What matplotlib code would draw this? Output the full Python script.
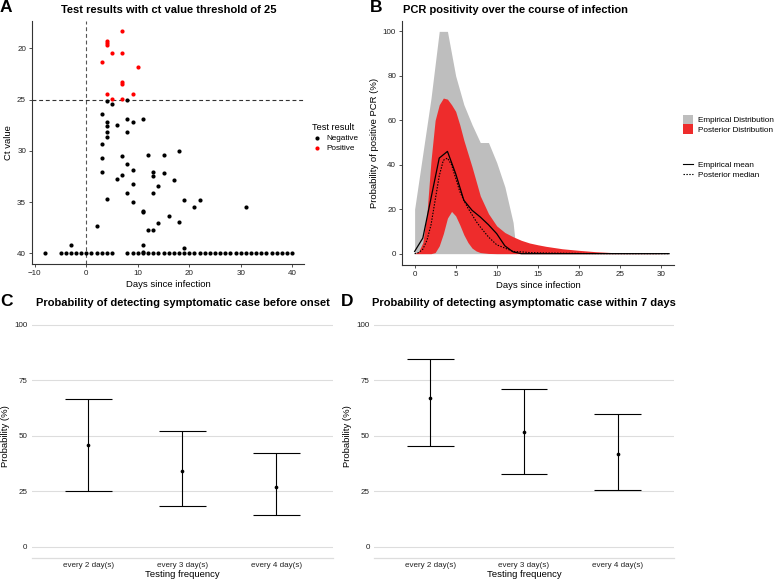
import matplotlib
matplotlib.use("Agg")
import matplotlib.pyplot as plt
from matplotlib.lines import Line2D
from matplotlib.patches import Patch
import numpy as np

plt.rcParams['font.family'] = ['Liberation Sans', 'DejaVu Sans']

# ---------------- Panel A data ----------------
pos_days = [7, 4, 4, 4, 5, 7, 3, 10, 7, 7, 4, 9, 5, 7]
pos_ct = [18.3, 19.25, 19.45, 19.64, 20.5, 20.42, 21.36, 21.78, 23.3, 23.5, 24.48, 24.48, 24.93, 24.93]

neg_days = [4, 5, 8, 3, 8, 11, 9, 6, 4, 4, 4, 8, 4, 3, 3, 7, 12, 15, 18, 8, 9, 3, 7, 13, 13, 15,
            6, 17, 9, 14, 8, 13, 4, 9, 19, 22, 21, 31, 11, 11, 16, 14, 18, 2, 12, 13, -3, 11, 19, 11]
neg_ct = [25.1, 25.42, 25.06, 26.4, 26.9, 26.9, 27.14, 27.46, 27.14, 27.53, 28.2, 28.2, 28.66, 29.35,
          30.68, 30.55, 30.45, 30.4, 30.06, 31.26, 31.88, 32.08, 32.34, 32.1, 32.5, 32.17,
          32.79, 32.89, 33.24, 33.4, 34.1, 34.1, 34.74, 34.97, 34.77, 34.77, 35.48, 35.48, 35.84, 36.0,
          36.33, 37.04, 36.95, 37.3, 37.69, 37.69, 39.22, 39.15, 39.5, 39.9]
floor_days = [-8, -5, -4, -3, -2, -1, 0, 1, 2, 3, 4, 5,
              8, 9, 10, 11, 12, 13, 14, 15, 16, 17, 18, 19, 20, 21, 22, 23, 24, 25, 26, 27, 28,
              29, 30, 31, 32, 33, 34, 35, 36, 37, 38, 39, 40]
floor_ct = [40] * len(floor_days)
ct_threshold = 25
infection_day = 0

# ---------------- Panel B data ----------------
emp_days = [0, 1, 2, 3, 4, 5, 6, 7, 8, 9, 10, 11, 12, 12.4, 31]
emp_upper = [20, 45, 70, 100, 100, 80, 67, 58, 50, 50, 41, 30, 14, 0, 0]
emp_lower = [0, 0, 0, 0, 0, 0, 0, 0, 0, 0, 0, 0, 0, 0, 0]

post_days = [0, 0.5, 1, 1.5, 2, 2.5, 3, 3.5, 4, 4.5, 5, 5.5, 6, 6.5, 7, 7.5, 8, 9, 10, 11, 12,
             13, 14, 15, 16, 18, 20, 22, 24, 26, 31]
post_upper = [0, 1, 5, 18, 42, 60, 67, 70, 69.5, 67, 64, 58, 51, 45, 39, 32.5, 26, 18, 12.5, 9.5,
              7.6, 6, 4.8, 4, 3.3, 2.2, 1.5, 0.9, 0.5, 0.2, 0]
post_lower = [0, 0, 0, 0, 0, 0.5, 3.5, 9, 16, 19, 17, 13, 8.5, 5, 2.5, 1.2, 0.5, 0.1, 0, 0, 0,
              0, 0, 0, 0, 0, 0, 0, 0, 0, 0]
post_median = [0, 0.5, 2, 6, 13, 24, 35, 42, 43, 40, 34, 28, 24, 20.5, 17.5, 14.5, 12, 7.5, 4, 2.5,
               1, 0.8, 0.5, 0.4, 0.3, 0.2, 0.1, 0.05, 0.02, 0, 0]

mean_days = [0, 1, 2, 3, 4, 5, 6, 7, 8, 9, 10, 11, 12, 13, 31]
emp_mean = [1, 7, 25, 43, 46, 36, 24, 19.5, 16.5, 13, 9, 3.5, 0.8, 0, 0]

# ---------------- Panels C / D data ----------------
freq_labels = ['every 2 day(s)', 'every 3 day(s)', 'every 4 day(s)']
sym_mid = [46.0, 34.1, 26.8]
sym_low = [25.4, 18.3, 14.2]
sym_high = [66.6, 52.2, 42.1]
asym_mid = [66.9, 51.6, 41.9]
asym_low = [45.5, 32.9, 25.7]
asym_high = [84.9, 71.1, 59.9]

# ---------------- figure ----------------
W, H = 778, 583
fig = plt.figure(figsize=(W / 100, H / 100), dpi=100)


def rect(l, r, t, b):
    return [l / W, 1 - b / H, (r - l) / W, (b - t) / H]


def fx(px):
    return px / W


def fy(py):
    return 1 - py / H


TICK_FS = 5.8
LAB_FS = 6.8
TITLE_FS = 8.0
LETTER_FS = 12.5
LEG_FS = 5.9
AXCOL = '#333333'


def classic(ax):
    for s in ['top', 'right']:
        ax.spines[s].set_visible(False)
    for s in ['left', 'bottom']:
        ax.spines[s].set_color(AXCOL)
        ax.spines[s].set_linewidth(0.8)
    ax.tick_params(axis='both', length=2.5, width=0.6, color=AXCOL, labelsize=TICK_FS,
                   labelcolor='#222222', pad=2)


# ----- Panel A -----
axA = fig.add_axes(rect(32.3, 304, 20.7, 264))
classic(axA)
axA.axvline(infection_day, color='#555555', lw=0.8, ls=(0, (3.5, 2.5)), zorder=1)
axA.axhline(ct_threshold, color='#333333', lw=0.8, ls=(0, (3.5, 2.5)), zorder=1)
axA.scatter(neg_days + floor_days, neg_ct + floor_ct, s=9, color='black', linewidths=0, zorder=3,
            label='Negative')
axA.scatter(pos_days, pos_ct, s=9, color='red', linewidths=0, zorder=3, label='Positive')
axA.set_xlim(-10.5, 42.3)
axA.set_ylim(41.04, 17.3)
axA.set_xticks([-10, 0, 10, 20, 30, 40])
axA.set_xticklabels(['\u221210', '0', '10', '20', '30', '40'])
axA.set_yticks([20, 25, 30, 35, 40])
axA.set_xlabel('Days since infection', fontsize=LAB_FS, labelpad=2)
axA.set_ylabel('Ct value', fontsize=LAB_FS, labelpad=3)
fig.text(fx(168.5), fy(10), 'Test results with ct value threshold of 25', fontsize=TITLE_FS,
         fontweight='bold', ha='center', va='center')
legA = axA.legend(loc='upper left', bbox_to_anchor=(fx(312), fy(123)), bbox_transform=fig.transFigure,
                  title='Test result', fontsize=LEG_FS, title_fontsize=6.6, frameon=False,
                  handletextpad=0.5, labelspacing=0.3, borderpad=0, borderaxespad=0,
                  markerscale=1.0, handlelength=1.2)
legA._legend_box.align = 'left'

# ----- Panel B -----
axB = fig.add_axes(rect(402.3, 674, 20.7, 265))
classic(axB)
axB.fill_between(emp_days, emp_lower, emp_upper, color='#BEBEBE', lw=0, zorder=1)
axB.fill_between(post_days, post_lower, post_upper, color='#EE2C2C', lw=0, zorder=2)
axB.plot(mean_days, emp_mean, color='black', lw=0.9, zorder=4)
axB.plot(post_days, post_median, color='black', lw=0.8, ls=(0, (1.3, 1.3)), zorder=4)
axB.set_xlim(-1.5, 31.6)
axB.set_ylim(-5.1, 104.8)
axB.set_xticks([0, 5, 10, 15, 20, 25, 30])
axB.set_yticks([0, 20, 40, 60, 80, 100])
axB.set_xlabel('Days since infection', fontsize=LAB_FS, labelpad=2)
axB.set_ylabel('Probability of positive PCR (%)', fontsize=LAB_FS, labelpad=3)
fig.text(fx(402.7), fy(10), 'PCR positivity over the course of infection', fontsize=TITLE_FS,
         fontweight='bold', ha='left', va='center')
fill_handles = [Patch(facecolor='#BEBEBE', edgecolor='none', label='Empirical Distribution'),
                Patch(facecolor='#EE2C2C', edgecolor='none', label='Posterior Distribution')]
leg1 = axB.legend(handles=fill_handles, loc='upper left', bbox_to_anchor=(fx(683), fy(115)),
                  bbox_transform=fig.transFigure, fontsize=LEG_FS, frameon=False, handlelength=1.2,
                  handleheight=1.35, handletextpad=0.6, labelspacing=0.0, borderpad=0, borderaxespad=0)
axB.add_artist(leg1)
line_handles = [Line2D([0], [0], color='black', lw=0.8, label='Empirical mean'),
                Line2D([0], [0], color='black', lw=0.8, ls=(0, (1.3, 1.3)), label='Posterior median')]
leg2 = axB.legend(handles=line_handles, loc='upper left', bbox_to_anchor=(fx(683), fy(161)),
                  bbox_transform=fig.transFigure, fontsize=LEG_FS, frameon=False, handlelength=1.2,
                  handletextpad=0.6, labelspacing=0.3, borderpad=0, borderaxespad=0)


# ----- Panels C / D -----
def interval_panel(ax, mids, lows, highs, title, title_x):
    xs = np.arange(1, len(freq_labels) + 1)
    for s in ['top', 'right', 'left']:
        ax.spines[s].set_visible(False)
    ax.spines['bottom'].set_color('#DDDDDD')
    ax.spines['bottom'].set_linewidth(0.9)
    ax.set_xlim(0.4, 3.6)
    ax.set_ylim(-5, 105)
    ax.set_yticks([0, 25, 50, 75, 100])
    ax.yaxis.grid(True, color='#DDDDDD', lw=0.8)
    ax.set_axisbelow(True)
    ax.tick_params(axis='both', length=0, labelsize=TICK_FS, labelcolor='#222222', pad=3)
    ax.set_xticks(xs)
    ax.set_xticklabels(freq_labels)
    ax.vlines(xs, lows, highs, color='black', lw=0.8, zorder=3)
    ax.hlines(highs, xs - 0.25, xs + 0.25, color='black', lw=0.8, zorder=3)
    ax.hlines(lows, xs - 0.25, xs + 0.25, color='black', lw=0.8, zorder=3)
    ax.scatter(xs, mids, s=7, color='black', linewidths=0, zorder=4)
    ax.set_xlabel('Testing frequency', fontsize=LAB_FS, labelpad=0.5)
    ax.set_ylabel('Probability (%)', fontsize=LAB_FS, labelpad=3)
    fig.text(fx(title_x), fy(303.5), title, fontsize=TITLE_FS, fontweight='bold',
             ha='center', va='center')


axC = fig.add_axes(rect(31.7, 332.7, 313.9, 558))
interval_panel(axC, sym_mid, sym_low, sym_high,
               'Probability of detecting symptomatic case before onset', 182.5)
axD = fig.add_axes(rect(374, 674, 313.9, 558))
interval_panel(axD, asym_mid, asym_low, asym_high,
               'Probability of detecting asymptomatic case within 7 days', 523.5)

# panel letters
for letter, x, y in [('A', 0, 8), ('B', 370, 8), ('C', 0, 302), ('D', 341, 302)]:
    fig.text(fx(x), fy(y), letter, fontsize=LETTER_FS, fontweight='bold', ha='left', va='center')

fig.savefig('out.png', dpi=100)
